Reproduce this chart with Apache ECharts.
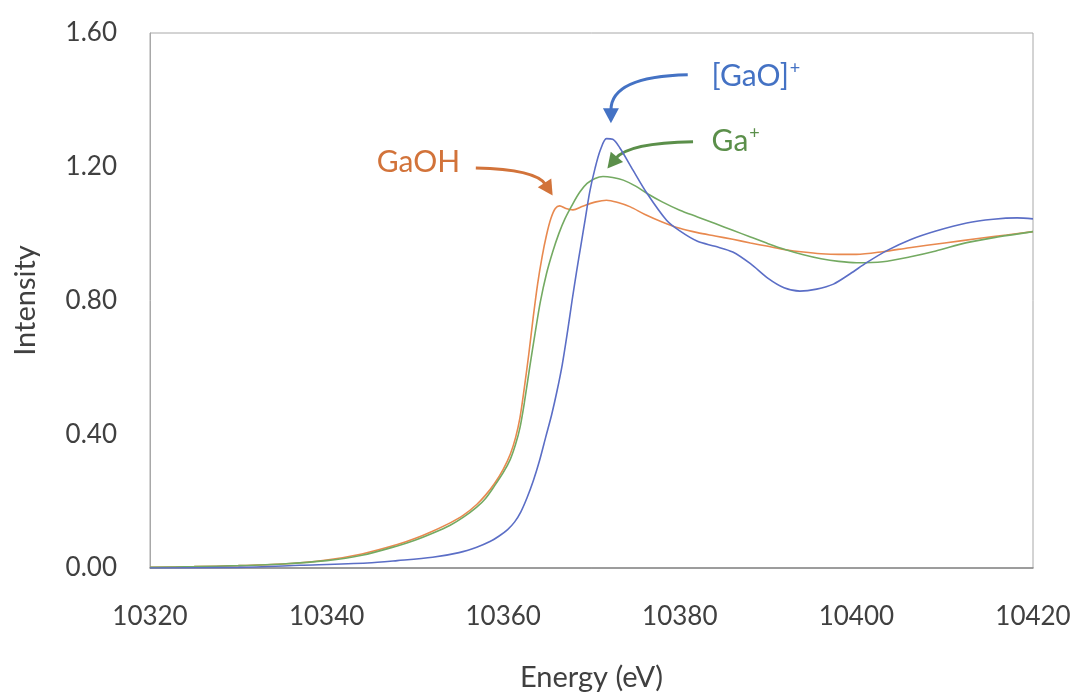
<!DOCTYPE html>
<html><head><meta charset="utf-8">
<script src="https://cdn.jsdelivr.net/npm/echarts@6/dist/echarts.min.js"></script>
<style>html,body{margin:0;padding:0;background:#fff}#c{width:1077px;height:697px}</style>
</head><body><div id="c"></div>
<script>
// ---- data ----
const gaohE = [10320,10325,10330,10335,10340,10344,10348,10350,10352,10354,10355.5,10357,10358,10359,10360,10360.8,10361.4,10361.9,10362.4,10362.9,10363.4,10363.9,10364.4,10364.9,10365.4,10365.9,10366.4,10367.1,10367.9,10369,10370.5,10371.7,10373,10374.4,10376,10378,10380,10382,10384,10386,10388,10390,10392,10394,10396,10398,10400,10403,10406,10410,10414,10417,10420];
const gaohI = [0.002,0.004,0.007,0.012,0.024,0.042,0.07,0.088,0.11,0.135,0.158,0.19,0.218,0.252,0.295,0.34,0.39,0.45,0.54,0.64,0.75,0.85,0.93,0.995,1.045,1.075,1.083,1.075,1.071,1.082,1.095,1.10,1.093,1.08,1.058,1.035,1.016,1.003,0.993,0.983,0.972,0.962,0.952,0.945,0.94,0.938,0.938,0.946,0.958,0.972,0.986,0.996,1.006];

const gaE = [10320,10325,10330,10335,10340,10344,10348,10350,10352,10354,10355.5,10357,10358,10359,10360,10360.8,10361.4,10361.9,10362.4,10363,10363.6,10364.2,10364.9,10365.6,10366.3,10367,10367.9,10368.7,10369.5,10370.4,10371.3,10372.4,10373.6,10375,10376.3,10378,10380,10382,10384,10386,10388,10390,10392,10394,10396,10398,10400,10403,10406,10409,10412.5,10416,10420];
const gaI = [0.002,0.004,0.007,0.012,0.022,0.038,0.066,0.083,0.104,0.128,0.152,0.182,0.208,0.245,0.285,0.325,0.37,0.42,0.495,0.60,0.70,0.795,0.88,0.945,1.0,1.045,1.09,1.125,1.15,1.165,1.171,1.168,1.16,1.142,1.12,1.095,1.07,1.05,1.03,1.01,0.99,0.97,0.952,0.937,0.925,0.917,0.913,0.916,0.93,0.948,0.973,0.99,1.006];

const gaoE = [10320,10330,10337,10344.6,10348,10352,10355,10357,10358.5,10359.5,10360.5,10361.3,10362,10362.7,10363.4,10364.1,10364.8,10365.5,10366.1,10366.7,10367.3,10367.8,10368.3,10368.8,10369.3,10369.8,10370.4,10371,10371.7,10372.4,10373.2,10374.7,10376.3,10378.5,10380,10382,10384,10386,10388,10390,10391.8,10393.6,10395.5,10397.4,10399.3,10401.2,10403.5,10406.1,10409,10412.5,10415.5,10418.2,10420];
const gaoI = [0.0,0.002,0.008,0.015,0.022,0.032,0.046,0.062,0.079,0.095,0.115,0.138,0.168,0.21,0.26,0.32,0.39,0.46,0.53,0.61,0.71,0.80,0.885,0.965,1.045,1.125,1.195,1.25,1.284,1.282,1.257,1.19,1.12,1.04,1.008,0.977,0.962,0.945,0.91,0.866,0.838,0.828,0.834,0.849,0.88,0.914,0.95,0.982,1.008,1.032,1.043,1.047,1.044];

const xTicks = [10320,10340,10360,10380,10400,10420];
const yTicks = [0,0.4,0.8,1.2,1.6];

// annotation anchors in data units
const notes = [
  {rich:'{a|GaOH}', color:'#d2733a', text:[10350.4,1.212], align:'center', start:[10356.9,1.196], ctrl:[10363.7,1.192], tip:[10365.6,1.114]},
  {rich:'{a|[GaO]}{s|+}', color:'#4472c4', text:[10383.6,1.470], align:'left', start:[10380.9,1.475], ctrl:[10372.2,1.470], tip:[10372.2,1.330]},
  {rich:'{a|Ga}{s|+}', color:'#5b8f4a', text:[10383.6,1.276], align:'left', start:[10381.5,1.275], ctrl:[10374.2,1.272], tip:[10371.8,1.195]}
];

const pairs = (E, I) => E.map((e, i) => [e, I[i]]);
const FONT = 'Lato';
const chart = echarts.init(document.getElementById('c'));
const mkSeries = (name, E, I, color) => ({
  name, type:'line', data:pairs(E, I), smooth:0.3, showSymbol:false,
  lineStyle:{color, width:1.6}, itemStyle:{color}, animation:false
});
chart.setOption({
  backgroundColor:'#ffffff',
  animation:false,
  grid:{left:150, right:44, top:33, bottom:125, show:true, borderColor:'#a8a8a8', borderWidth:1},
  xAxis:{type:'value', min:10320, max:10420, interval:20,
    name:'Energy (eV)', nameLocation:'middle', nameGap:95,
    nameTextStyle:{fontFamily:FONT, fontSize:29, color:'#404040'},
    axisLine:{show:true, lineStyle:{color:'#8a8a8a', width:1.5}},
    axisTick:{show:false}, splitLine:{show:false},
    axisLabel:{fontFamily:FONT, fontSize:26, color:'#404040', margin:36,
      formatter:v => xTicks.includes(v) ? String(v) : ''}},
  yAxis:{type:'value', min:0, max:1.6, interval:0.4,
    name:'Intensity', nameLocation:'middle', nameGap:110, nameRotate:90,
    nameTextStyle:{fontFamily:FONT, fontSize:29, color:'#404040'},
    axisLine:{show:true, lineStyle:{color:'#a8a8a8', width:1}},
    axisTick:{show:false}, splitLine:{show:false},
    axisLabel:{fontFamily:FONT, fontSize:26, color:'#404040', margin:33,
      formatter:v => yTicks.some(t => Math.abs(t - v) < 1e-9) ? v.toFixed(2) : ''}},
  series:[
    mkSeries('GaOH', gaohE, gaohI, '#e8894f'),
    mkSeries('Ga+', gaE, gaI, '#74aa62'),
    mkSeries('[GaO]+', gaoE, gaoI, '#5b6ec6')
  ]
});

function px(p){ return chart.convertToPixel({gridIndex:0}, p); }
const graphics = [];
notes.forEach(n => {
  const s = px(n.start), c = px(n.ctrl), t = px(n.tip);
  const dx = t[0]-c[0], dy = t[1]-c[1], L = Math.hypot(dx, dy);
  const ux = dx/L, uy = dy/L, hl = 15, hw = 8;
  const b = [t[0]-ux*hl, t[1]-uy*hl];
  graphics.push({type:'bezierCurve', silent:true,
    shape:{x1:s[0], y1:s[1], cpx1:c[0], cpy1:c[1], x2:b[0]+ux*2, y2:b[1]+uy*2},
    style:{stroke:n.color, lineWidth:3, fill:null}});
  graphics.push({type:'polygon', silent:true,
    shape:{points:[t, [b[0]-uy*hw, b[1]+ux*hw], [b[0]+uy*hw, b[1]-ux*hw]]},
    style:{fill:n.color}});
  const tp = px(n.text);
  graphics.push({type:'text', silent:true, x:tp[0], y:tp[1],
    style:{text:n.rich, align:n.align, verticalAlign:'middle',
      rich:{a:{fontFamily:FONT, fontSize:30, fill:n.color},
            s:{fontFamily:FONT, fontSize:18, fill:n.color, padding:[0,0,16,1]}}}});
});
chart.setOption({graphic:graphics});
</script></body></html>
